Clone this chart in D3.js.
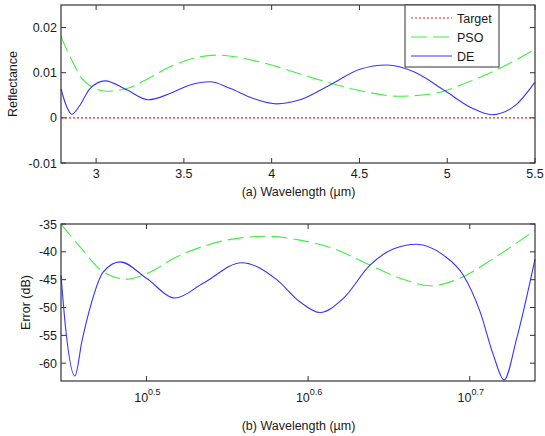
<!DOCTYPE html>
<html><head><meta charset="utf-8">
<script src="https://cdn.jsdelivr.net/npm/d3@7"></script>
<style>
body{margin:0;background:#fff;}
text{font-family:"Liberation Sans",Arial,sans-serif;}
</style></head>
<body><svg id="c" width="545" height="436"></svg>
<script>
// ---- data ----
const deTopX  = [2.8,2.832,2.861,2.908,2.965,3.051,3.174,3.298,3.421,3.535,3.649,3.762,3.895,4.028,4.161,4.332,4.503,4.655,4.816,4.987,5.139,5.253,5.386,5.5];
const deTopY  = [0.0064,0.0025,0.0008,0.0028,0.0065,0.0082,0.0062,0.0040,0.0054,0.0073,0.0080,0.00655,0.0043,0.0031,0.0040,0.0073,0.01076,0.0117,0.0101,0.006,0.0022,0.0007,0.0027,0.0079];
const psoTopX = [2.8,2.87,2.918,2.965,3.06,3.174,3.288,3.421,3.535,3.687,3.952,4.237,4.474,4.721,4.911,5.1,5.29,5.5];
const psoTopY = [0.0180,0.0121,0.0088,0.0071,0.0059,0.0065,0.0085,0.0113,0.0130,0.0139,0.0122,0.0088,0.0063,0.0048,0.0053,0.0076,0.0108,0.0152];
const targetX = [2.8,5.5];
const targetY = [0,0];

const deBotX  = [2.8,2.818,2.856,2.885,2.918,2.974,3.046,3.164,3.294,3.43,3.622,3.807,3.936,4.05,4.186,4.348,4.494,4.647,4.827,4.966,5.086,5.183,5.263,5.359,5.5];
const deBotY  = [-44.2,-53.5,-62.3,-56.0,-50.1,-43.6,-41.8,-44.8,-48.3,-45.6,-41.95,-45.0,-49.0,-50.9,-48.35,-42.4,-39.5,-38.65,-40.6,-44.2,-50.75,-58.5,-63.0,-55.5,-41.3];
const psoBotX = [2.8,2.877,2.974,3.075,3.164,3.302,3.447,3.614,3.754,3.936,4.127,4.327,4.539,4.738,4.943,5.183,5.5];
const psoBotY = [-35,-39.1,-43.6,-44.9,-43.9,-40.9,-38.8,-37.5,-37.2,-37.9,-39.4,-42.1,-44.75,-46.1,-44.75,-41.2,-36.1];

const topXTicks = [3,3.5,4,4.5,5,5.5];
const topYTicks = [-0.01,0,0.01,0.02];
const botXExp   = [0.5,0.6,0.7];
const botYTicks = [-60,-55,-50,-45,-40,-35];
const legendNames = ["Target","PSO","DE"];

// ---- drawing ----
const svg = d3.select("#c");
const colT = "#ff1a1a", colP = "#3fee3f", colD = "#3535ff";
const axisCol = "#333";
const txtCol = "#1a1a1a";
const fs = 12.5;
const curve = d3.curveMonotoneX;

function frame(g, x0, x1, y0, y1){
  g.append("rect").attr("x",x0).attr("y",y0).attr("width",x1-x0).attr("height",y1-y0)
   .attr("fill","none").attr("stroke",axisCol).attr("stroke-width",1.2);
}

// Top panel
const L=61,R=535;
const tT=5,tB=163;
const xT = d3.scaleLinear().domain([2.8,5.5]).range([L,R]);
const yT = d3.scaleLinear().domain([-0.01,0.025]).range([tB,tT]);
const gT = svg.append("g");
const tk=5;
topXTicks.forEach(v=>{
  const x=xT(v);
  gT.append("line").attr("x1",x).attr("x2",x).attr("y1",tB).attr("y2",tB-tk).attr("stroke",axisCol);
  gT.append("line").attr("x1",x).attr("x2",x).attr("y1",tT).attr("y2",tT+tk).attr("stroke",axisCol);
  gT.append("text").attr("x",x).attr("y",tB+15).attr("text-anchor","middle").attr("font-size",fs).attr("fill",txtCol).text(v);
});
topYTicks.forEach(v=>{
  const y=yT(v);
  gT.append("line").attr("x1",L).attr("x2",L+tk).attr("y1",y).attr("y2",y).attr("stroke",axisCol);
  gT.append("line").attr("x1",R).attr("x2",R-tk).attr("y1",y).attr("y2",y).attr("stroke",axisCol);
  gT.append("text").attr("x",L-4).attr("y",y+4.5).attr("text-anchor","end").attr("font-size",fs).attr("fill",txtCol).text(v);
});
const lineT = d3.line().x(d=>xT(d[0])).y(d=>yT(d[1])).curve(curve);
gT.append("path").datum(d3.zip(targetX,targetY)).attr("d",lineT).attr("fill","none").attr("stroke",colT).attr("stroke-width",1.2).attr("stroke-dasharray","2,2");
gT.append("path").datum(d3.zip(psoTopX,psoTopY)).attr("d",lineT).attr("fill","none").attr("stroke",colP).attr("stroke-width",1.1).attr("stroke-dasharray","16,6");
gT.append("path").datum(d3.zip(deTopX,deTopY)).attr("d",lineT).attr("fill","none").attr("stroke",colD).attr("stroke-width",1.1);
frame(gT,L,R,tT,tB);
gT.append("text").attr("x",(L+R)/2+0.5).attr("y",196).attr("text-anchor","middle").attr("font-size",fs).attr("fill",txtCol).text("(a) Wavelength (µm)");
gT.append("text").attr("transform",`translate(17,${(tT+tB)/2}) rotate(-90)`).attr("text-anchor","middle").attr("font-size",fs).attr("fill",txtCol).text("Reflectance");

// legend
const lg = svg.append("g");
lg.append("rect").attr("x",405).attr("y",tT).attr("width",94).attr("height",62).attr("fill","#fff").attr("stroke",axisCol).attr("stroke-width",1);
const legCols=[colT,colP,colD], legDash=["2,2","16,6",null];
legendNames.forEach((n,i)=>{
  const y=18+i*19;
  const ln=lg.append("line").attr("x1",411).attr("x2",452).attr("y1",y).attr("y2",y).attr("stroke",legCols[i]).attr("stroke-width",1.2);
  if(legDash[i]) ln.attr("stroke-dasharray",legDash[i]);
  lg.append("text").attr("x",457).attr("y",y+4.5).attr("font-size",fs).attr("fill",txtCol).text(n);
});

// Bottom panel
const bT=224,bB=381;
const xB = d3.scaleLog().domain([2.8,5.5]).range([L,R]);
const yB = d3.scaleLinear().domain([-63.2,-35]).range([bB,bT]);
const gB = svg.append("g");
botXExp.forEach(e=>{
  const x=xB(Math.pow(10,e));
  gB.append("line").attr("x1",x).attr("x2",x).attr("y1",bB).attr("y2",bB-tk).attr("stroke",axisCol);
  gB.append("line").attr("x1",x).attr("x2",x).attr("y1",bT).attr("y2",bT+tk).attr("stroke",axisCol);
  const t=gB.append("text").attr("x",x+1).attr("y",bB+21).attr("text-anchor","middle").attr("font-size",fs).attr("fill",txtCol);
  t.append("tspan").text("10");
  t.append("tspan").attr("dy",-7).attr("font-size",9).text(e);
});
botYTicks.forEach(v=>{
  const y=yB(v);
  gB.append("line").attr("x1",L).attr("x2",L+tk).attr("y1",y).attr("y2",y).attr("stroke",axisCol);
  gB.append("line").attr("x1",R).attr("x2",R-tk).attr("y1",y).attr("y2",y).attr("stroke",axisCol);
  gB.append("text").attr("x",L-4).attr("y",y+4.5).attr("text-anchor","end").attr("font-size",fs).attr("fill",txtCol).text(v);
});
const lineB = d3.line().x(d=>xB(d[0])).y(d=>yB(d[1])).curve(curve);
gB.append("path").datum(d3.zip(psoBotX,psoBotY)).attr("d",lineB).attr("fill","none").attr("stroke",colP).attr("stroke-width",1.1).attr("stroke-dasharray","16,6");
gB.append("path").datum(d3.zip(deBotX,deBotY)).attr("d",lineB).attr("fill","none").attr("stroke",colD).attr("stroke-width",1.1);
frame(gB,L,R,bT,bB);
gB.append("text").attr("x",(L+R)/2+0.5).attr("y",430).attr("text-anchor","middle").attr("font-size",fs).attr("fill",txtCol).text("(b) Wavelength (µm)");
gB.append("text").attr("transform",`translate(30,${(bT+bB)/2}) rotate(-90)`).attr("text-anchor","middle").attr("font-size",fs).attr("fill",txtCol).text("Error (dB)");
</script></body></html>
